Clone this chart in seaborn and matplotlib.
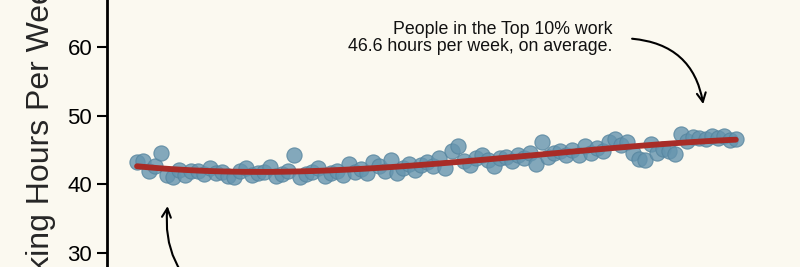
import numpy as np
import pandas as pd
import matplotlib
matplotlib.use("Agg")
import matplotlib.pyplot as plt
import seaborn as sns

percentile = list(range(1, 101))
hours = [
    43.3, 43.4, 42.0, 42.6, 44.5, 41.3, 41.0, 42.1, 41.4, 41.9,
    42.0, 41.5, 42.3, 41.6, 41.8, 41.2, 41.0, 41.9, 42.4, 41.3,
    41.6, 41.8, 42.5, 41.2, 41.5, 42.0, 44.3, 41.0, 41.5, 41.8,
    42.3, 41.2, 41.6, 42.0, 41.4, 43.0, 41.8, 42.2, 41.7, 43.2,
    42.6, 41.9, 43.5, 41.6, 42.4, 43.0, 42.1, 42.8, 43.3, 42.7,
    43.8, 42.4, 44.9, 45.6, 43.4, 42.8, 43.9, 44.3, 43.6, 42.6,
    43.8, 44.0, 43.4, 44.3, 43.8, 44.6, 43.0, 46.2, 44.0, 44.5,
    44.8, 44.3, 45.0, 44.2, 45.6, 44.6, 45.3, 44.9, 46.1, 46.6,
    45.8, 46.2, 44.5, 43.7, 43.6, 45.9, 44.6, 45.2, 44.8, 44.4,
    47.4, 46.3, 46.9, 46.7, 46.6, 47.0, 46.8, 47.1, 46.4, 46.6,
]
yticks = [20, 30, 40, 50, 60, 70]
ylabel = "Working Hours Per Week"
top_note = "People in the Top 10% work\n46.6 hours per week, on average."

df = pd.DataFrame({"percentile": percentile, "hours": hours})

bg = "#fbf9f0"
sns.set_theme(style="ticks")
plt.rcParams["font.family"] = ["Liberation Sans", "DejaVu Sans"]

fig = plt.figure(figsize=(8, 2.67), dpi=100, facecolor=bg)
ax = fig.add_axes([106.8 / 800, -0.2022, (766 - 106.8) / 800, 1.2809])
ax.set_facecolor(bg)

sns.regplot(
    data=df, x="percentile", y="hours", order=3, ci=None, ax=ax,
    scatter_kws=dict(s=120, color="#6594ae", alpha=0.8, edgecolor="#55849e", linewidths=0.8, zorder=2),
    line_kws=dict(color="#a82c27", lw=4.2, zorder=3),
)

ax.set_xlim(-4, 105)
ax.set_ylim(20, 70)
ax.set_yticks(yticks)
ax.set_xticks([])
ax.set_xlabel("")
ax.set_ylabel(ylabel, fontsize=23, labelpad=8)
ax.tick_params(axis="y", labelsize=16, length=7, width=1.5, color="black", labelcolor="black")
for s in ["top", "right"]:
    ax.spines[s].set_visible(False)
ax.spines["left"].set_linewidth(2)
ax.spines["left"].set_color("black")
ax.spines["bottom"].set_linewidth(2)
ax.spines["bottom"].set_color("black")

ax.text(79.6, 61.3, top_note, ha="right", va="center", fontsize=12.8, color="#111111", linespacing=1.0)
ax.annotate("", xy=(94.7, 51.3), xytext=(82.4, 61.3),
            arrowprops=dict(arrowstyle="->", color="black", lw=1.5,
                            connectionstyle="arc3,rad=-0.4", mutation_scale=16))
ax.annotate("", xy=(6.1, 37.2), xytext=(13.5, 22.5),
            arrowprops=dict(arrowstyle="->", color="black", lw=1.5,
                            connectionstyle="arc3,rad=-0.3", mutation_scale=16))

fig.savefig("out.png", dpi=100, facecolor=bg)
